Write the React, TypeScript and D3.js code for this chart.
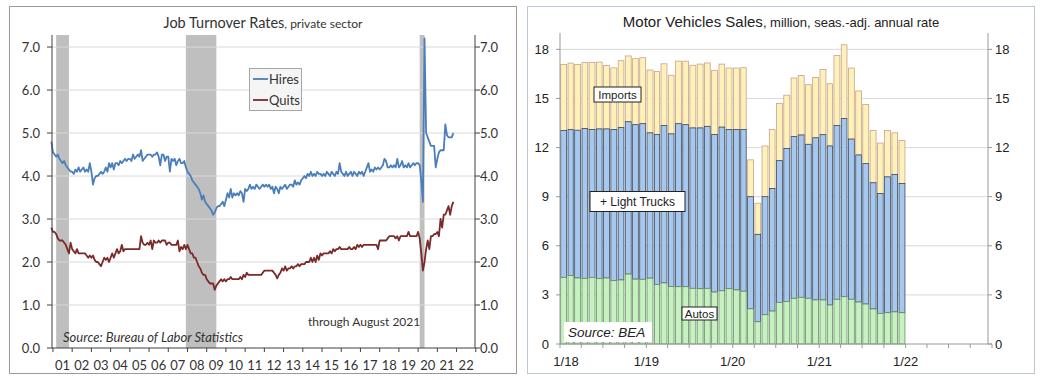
import React from 'react';
import * as d3 from 'd3';

// ---------------- Left chart data: JOLTS private sector, monthly from Dec 2000 ----------------
const turnoverStart = 2000 + 11 / 12; // Dec 2000
const hiresRate = [
  4.8,
  4.55, 4.5, 4.45, 4.5, 4.4, 4.35, 4.3, 4.35, 4.25, 4.2, 4.15, 4.1,
  4.1, 4.05, 4.15, 4.1, 4.2, 4.1, 4.15, 4.2, 4.1, 4.15, 4.1, 4.3,
  4.1, 3.8, 3.95, 4.0, 4.0, 4.05, 4.1, 4.05, 4.1, 4.2, 4.1, 4.3,
  4.2, 4.3, 4.15, 4.3, 4.3, 4.25, 4.35, 4.3, 4.35, 4.4, 4.35, 4.4,
  4.4, 4.35, 4.5, 4.4, 4.45, 4.5, 4.45, 4.6, 4.35, 4.4, 4.45, 4.5,
  4.5, 4.5, 4.45, 4.5, 4.5, 4.55, 4.45, 4.25, 4.5, 4.5, 4.35, 4.45,
  4.45, 4.1, 4.4, 4.35, 4.4, 4.25, 4.35, 4.4, 4.3, 4.3, 4.35, 4.2,
  4.1, 4.05, 4.0, 3.9, 3.85, 3.8, 3.75, 3.7, 3.6, 3.45, 3.55, 3.4,
  3.35, 3.3, 3.25, 3.2, 3.1, 3.15, 3.25, 3.3, 3.3, 3.35, 3.4, 3.3,
  3.45, 3.6, 3.5, 3.7, 3.5, 3.6, 3.55, 3.6, 3.55, 3.65, 3.6, 3.4,
  3.7, 3.65, 3.7, 3.8, 3.7, 3.75, 3.7, 3.8, 3.75, 3.7, 3.75, 3.8,
  3.75, 3.8, 3.75, 3.8, 3.7, 3.75, 3.6, 3.75, 3.7, 3.6, 3.75, 3.7,
  3.75, 3.8, 3.7, 3.75, 3.8, 3.8, 3.75, 3.9, 3.8, 3.85, 3.8, 3.9,
  3.95, 4.0, 3.95, 4.05, 4.0, 4.1, 4.0, 4.05, 4.0, 4.1, 4.05, 4.05,
  4.0, 4.05, 4.0, 4.1, 4.05, 4.0, 4.1, 4.05, 4.0, 4.1, 4.05, 4.3,
  4.1, 4.05, 4.0, 4.1, 4.0, 4.05, 4.1, 4.0, 4.1, 4.05, 4.0, 4.1,
  4.05, 4.1, 4.0, 4.1, 4.2, 4.3, 4.1, 4.15, 4.1, 4.2, 4.15, 4.2,
  4.15, 4.2, 4.25, 4.4, 4.35, 4.2, 4.2, 4.25, 4.2, 4.25, 4.2, 4.4,
  4.2, 4.25, 4.35, 4.2, 4.25, 4.2, 4.3, 4.2, 4.25, 4.3, 4.25, 4.3,
  4.3, 4.25, 3.9, 3.4, 7.2, 5.0, 4.9, 4.8, 4.7, 4.7, 4.7, 4.2,
  4.4, 4.55, 4.6, 4.6, 4.6, 5.2, 4.95, 4.9, 4.9, 4.9, 5.0,
];
const quitsRate = [
  2.8,
  2.7, 2.7, 2.65, 2.55, 2.5, 2.5, 2.5, 2.45, 2.4, 2.3, 2.2, 2.45,
  2.3, 2.25, 2.2, 2.3, 2.2, 2.2, 2.2, 2.2, 2.2, 2.15, 2.1, 2.15,
  2.1, 2.15, 2.05, 2.0, 2.0, 1.95, 1.9, 2.0, 2.1, 2.05, 2.1, 2.0,
  2.1, 2.2, 2.1, 2.2, 2.3, 2.2, 2.25, 2.4, 2.25, 2.3, 2.3, 2.3,
  2.3, 2.3, 2.3, 2.3, 2.3, 2.3, 2.3, 2.6, 2.45, 2.4, 2.4, 2.45,
  2.4, 2.5, 2.3, 2.5, 2.45, 2.45, 2.5, 2.45, 2.5, 2.5, 2.5, 2.4,
  2.45, 2.45, 2.4, 2.4, 2.4, 2.4, 2.5, 2.25, 2.35, 2.3, 2.4, 2.3,
  2.4, 2.3, 2.2, 2.2, 2.1, 2.1, 2.0, 1.9, 1.85, 1.75, 1.7, 1.7,
  1.6, 1.55, 1.5, 1.5, 1.5, 1.35, 1.45, 1.5, 1.55, 1.6, 1.55, 1.6,
  1.55, 1.6, 1.6, 1.65, 1.6, 1.6, 1.6, 1.6, 1.6, 1.65, 1.6, 1.7,
  1.65, 1.75, 1.7, 1.7, 1.7, 1.7, 1.7, 1.7, 1.7, 1.7, 1.7, 1.75,
  1.8, 1.8, 1.8, 1.8, 1.8, 1.8, 1.75, 1.7, 1.62, 1.7, 1.75, 1.85,
  1.8, 1.9, 1.8, 1.85, 1.85, 1.9, 1.85, 1.9, 1.9, 1.95, 1.9, 1.95,
  1.95, 1.95, 2.0, 2.0, 2.0, 2.1, 2.0, 2.1, 2.0, 2.15, 2.05, 2.2,
  2.15, 2.2, 2.2, 2.2, 2.2, 2.25, 2.2, 2.3, 2.25, 2.3, 2.3, 2.35,
  2.3, 2.3, 2.3, 2.3, 2.3, 2.35, 2.3, 2.3, 2.35, 2.3, 2.4, 2.35,
  2.4, 2.35, 2.4, 2.4, 2.4, 2.4, 2.4, 2.4, 2.4, 2.4, 2.4, 2.3,
  2.5, 2.5, 2.5, 2.5, 2.5, 2.55, 2.6, 2.6, 2.6, 2.6, 2.55, 2.6,
  2.5, 2.6, 2.6, 2.6, 2.6, 2.6, 2.7, 2.6, 2.6, 2.6, 2.6, 2.6,
  2.7, 2.55, 2.2, 1.8, 2.0, 2.3, 2.5, 2.3, 2.6, 2.6, 2.65, 2.65,
  2.7, 2.6, 3.0, 2.8, 3.1, 3.1, 3.2, 3.3, 3.1, 3.3, 3.4,
];
const recessions = [
  [2001 + 2 / 12, 2001 + 10 / 12],
  [2007 + 11 / 12, 2009 + 6 / 12],
  [2020 + 1 / 12, 2020 + 4 / 12],
];
const turnoverTicks = [0, 1, 2, 3, 4, 5, 6, 7];
const turnoverYears = d3.range(2001, 2023);
const turnoverYearLabels = turnoverYears.map((y) => String(y % 100).padStart(2, '0'));

// ---------------- Right chart data: motor vehicle sales, monthly from Jan 2018 ----------------
const totalSales = [
  17.07, 17.16, 17.07, 17.2, 17.2, 17.22, 17.02, 16.87, 17.31, 17.6, 17.43, 17.49,
  16.74, 16.65, 17.12, 16.42, 17.28, 17.28, 17.03, 17.1, 17.17, 16.72, 17.1, 16.86,
  16.86, 16.88, 11.25, 8.6, 12.1, 13.1, 14.7, 15.2, 16.25, 16.4, 15.84, 16.28,
  16.77, 15.9, 17.63, 18.28, 16.86, 15.46, 14.63, 13.04, 12.28, 13.04, 12.9, 12.43,
];
const domesticSales = [
  13.05, 13.1, 13.06, 13.17, 13.1, 13.14, 13.14, 13.1, 13.22, 13.58, 13.4, 13.46,
  12.9, 12.8, 13.35, 12.84, 13.46, 13.4, 13.2, 13.2, 13.3, 12.8, 13.25, 13.1,
  13.1, 13.1, 9.0, 6.7, 9.0, 9.5, 11.2, 11.95, 12.67, 12.77, 12.2, 12.6,
  12.79, 12.1, 13.35, 13.77, 12.52, 11.55, 11.02, 9.85, 9.19, 10.21, 10.35, 9.8,
];
const autoSales = [
  4.07, 4.18, 4.03, 4.01, 4.07, 4.0, 4.03, 3.87, 3.91, 4.27, 3.96, 3.95,
  4.02, 3.63, 3.73, 3.51, 3.5, 3.5, 3.4, 3.38, 3.4, 3.17, 3.25, 3.38,
  3.3, 3.22, 2.15, 1.36, 1.79, 2.01, 2.54, 2.6, 2.79, 2.85, 2.79, 2.69,
  2.69, 2.38, 2.73, 2.89, 2.73, 2.56, 2.44, 2.14, 1.87, 1.91, 1.96, 1.91,
];
const salesTicks = [0, 3, 6, 9, 12, 15, 18];
const salesYearLabels = ['1/18', '1/19', '1/20', '1/21', '1/22'];

const leftFont = "Lato, 'Open Sans', sans-serif";
const rightFont = "'Liberation Sans', Arial, sans-serif";

function LeftChart() {
  const x = d3.scaleLinear().domain([2000.95, 2022.96]).range([52, 475]);
  const y = d3.scaleLinear().domain([0, 7.28]).range([348, 35]);
  const t = (i: number) => turnoverStart + i / 12;
  const line = d3
    .line<number>()
    .x((_, i) => x(t(i)))
    .y((d) => y(d));
  const left = x.range()[0];
  const right = x.range()[1];
  const top = y.range()[1];
  const bottom = y.range()[0];
  const txt = '#333';
  return (
    <g fontFamily={leftFont}>
      <rect x={9.5} y={6.5} width={507} height={367} fill="#fff" stroke="#9a9a9a" />
      {recessions.map(([a, b], i) => (
        <rect key={i} x={x(a)} y={top} width={x(b) - x(a)} height={bottom - top} fill="#bfbfbf" />
      ))}
      {turnoverTicks.slice(1).map((v) => (
        <line key={v} x1={left} x2={right} y1={y(v)} y2={y(v)} stroke="#d9d9d9" strokeWidth={1} />
      ))}
      <path d={line(quitsRate) || ''} fill="none" stroke="#7b2a2a" strokeWidth={1.8} strokeLinejoin="round" />
      <path d={line(hiresRate) || ''} fill="none" stroke="#4a7ebb" strokeWidth={1.8} strokeLinejoin="round" />
      {/* axes */}
      <line x1={left} x2={left} y1={top} y2={bottom} stroke="#404040" />
      <line x1={right} x2={right} y1={top} y2={bottom} stroke="#404040" />
      <line x1={left} x2={right} y1={bottom} y2={bottom} stroke="#404040" />
      {turnoverTicks.map((v) => (
        <g key={v}>
          <line x1={left - 5} x2={left} y1={y(v)} y2={y(v)} stroke="#404040" />
          <line x1={right} x2={right + 5} y1={y(v)} y2={y(v)} stroke="#404040" />
          <text x={40} y={y(v) + 4.5} textAnchor="end" fontSize={13} fill={txt}>
            {v.toFixed(1)}
          </text>
          <text x={480} y={y(v) + 4.5} textAnchor="start" fontSize={13} fill={txt}>
            {v.toFixed(1)}
          </text>
        </g>
      ))}
      {[...turnoverYears, 2023].map((yr) => (
        <line key={yr} x1={x(yr)} x2={x(yr)} y1={bottom} y2={bottom + 4} stroke="#404040" />
      ))}
      {turnoverYears.map((yr, i) => (
        <text key={yr} x={x(yr + 0.5)} y={370} textAnchor="middle" fontSize={13} fill={txt}>
          {turnoverYearLabels[i]}
        </text>
      ))}
      <text x={263} y={28} textAnchor="middle" fill={txt}>
        <tspan fontSize={14.5}>Job Turnover Rates</tspan>
        <tspan fontSize={12}>, private sector</tspan>
      </text>
      {/* legend */}
      <rect x={249.5} y={68.5} width={52} height={42} fill="#f5f5f5" stroke="#a6a6a6" />
      <line x1={253} x2={268} y1={79} y2={79} stroke="#4a7ebb" strokeWidth={1.8} />
      <text x={269} y={83.5} fontSize={13} fill={txt}>Hires</text>
      <line x1={253} x2={268} y1={100} y2={100} stroke="#7b2a2a" strokeWidth={1.8} />
      <text x={269} y={104.5} fontSize={13} fill={txt}>Quits</text>
      <text x={308} y={326} fontSize={12} fill={txt}>through August 2021</text>
      <text x={63} y={342} fontSize={13} fontStyle="italic" fill={txt}>
        Source: Bureau of Labor Statistics
      </text>
    </g>
  );
}

function RightChart() {
  const start = new Date(2018, 0, 1);
  const end = new Date(2023, 0, 1);
  const x = d3.scaleTime().domain([start, end]).range([560, 992]);
  const y = d3.scaleLinear().domain([0, 19]).range([344, 33]);
  const left = 560;
  const right = 988;
  const top = 33;
  const bottom = 344;
  const months = totalSales.map((_, i) => new Date(2018, i, 1));
  const quarterTicks = x.ticks(d3.timeMonth.every(3) as any);
  const txt = '#222';
  const boxLabel = (cx: number, cy: number, w: number, h: number, label: string, fs: number) => (
    <g>
      <rect x={cx - w / 2} y={cy - h / 2} width={w} height={h} fill="#fff" stroke="#222" strokeWidth={1} />
      <text x={cx} y={cy + fs * 0.36} textAnchor="middle" fontSize={fs} fill={txt}>
        {label}
      </text>
    </g>
  );
  return (
    <g fontFamily={rightFont}>
      <rect x={527.5} y={6.5} width={507} height={367} fill="#fff" stroke="#b8c8d8" />
      {salesTicks.slice(1).map((v) => (
        <line key={v} x1={left} x2={right} y1={y(v)} y2={y(v)} stroke="#d9d9d9" />
      ))}
      {months.map((d, i) => {
        const x0 = x(d);
        const x1 = x(new Date(2018, i + 1, 1));
        const bx = x0 + 0.7;
        const bw = x1 - x0 - 1.4;
        return (
          <g key={i}>
            <rect x={bx} y={y(totalSales[i])} width={bw} height={y(domesticSales[i]) - y(totalSales[i])} fill="#fff2b8" stroke="#c9a28e" strokeWidth={0.8} />
            <rect x={bx} y={y(domesticSales[i])} width={bw} height={y(autoSales[i]) - y(domesticSales[i])} fill="#a6c8ef" stroke="#3d4a5a" strokeWidth={0.8} />
            <rect x={bx} y={y(autoSales[i])} width={bw} height={y(0) - y(autoSales[i])} fill="#c6f2c0" stroke="#6e8c6c" strokeWidth={0.8} />
          </g>
        );
      })}
      <line x1={left} x2={left} y1={top} y2={bottom} stroke="#999" />
      <line x1={right} x2={right} y1={top} y2={bottom} stroke="#999" />
      <line x1={left} x2={992} y1={bottom} y2={bottom} stroke="#999" />
      {salesTicks.map((v) => (
        <g key={v}>
          <line x1={left - 4} x2={left} y1={y(v)} y2={y(v)} stroke="#999" />
          <line x1={right} x2={right + 4} y1={y(v)} y2={y(v)} stroke="#999" />
          <text x={549} y={y(v) + 4.5} textAnchor="end" fontSize={13} fill={txt}>
            {v}
          </text>
          <text x={995} y={y(v) + 4.5} textAnchor="start" fontSize={13} fill={txt}>
            {v}
          </text>
        </g>
      ))}
      {quarterTicks.map((d, i) => (
        <line key={i} x1={x(d)} x2={x(d)} y1={bottom} y2={bottom + 4} stroke="#999" />
      ))}
      {salesYearLabels.map((lab, i) => (
        <text key={lab} x={x(new Date(2018 + i, 0, 1)) + (i === 0 ? 6 : 0)} y={366} textAnchor="middle" fontSize={13} fill={txt}>
          {lab}
        </text>
      ))}
      <text x={781} y={27} textAnchor="middle" fill={txt}>
        <tspan fontSize={15}>Motor Vehicles Sales</tspan>
        <tspan fontSize={13}>, million, seas.-adj. annual rate</tspan>
      </text>
      {boxLabel(617.5, 94.5, 47, 15, 'Imports', 11.5)}
      {boxLabel(637.5, 201.5, 95, 20, '+ Light Trucks', 12)}
      {boxLabel(699.5, 313.5, 35, 13, 'Autos', 11.5)}
      <rect x={564} y={322} width={88} height={20} fill="#fff" />
      <text x={568} y={337} fontSize={13.5} fontStyle="italic" fill={txt}>
        Source: BEA
      </text>
    </g>
  );
}

export default function App() {
  return (
    <svg
      width={1048}
      height={380}
      viewBox="0 0 1048 380"
      style={{ position: 'absolute', left: 0, top: 0, background: '#fff' }}
    >
      <rect x={0} y={0} width={1048} height={380} fill="#fff" />
      <LeftChart />
      <RightChart />
    </svg>
  );
}
